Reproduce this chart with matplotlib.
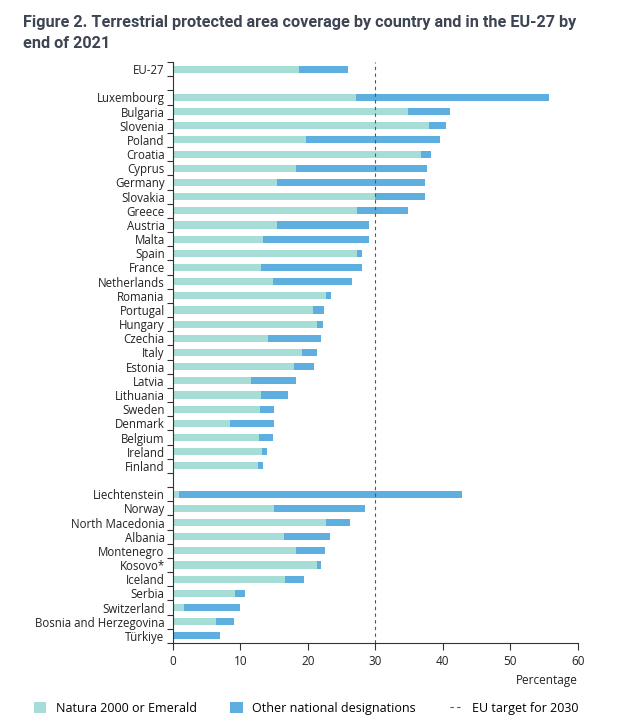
import matplotlib.pyplot as plt
import numpy as np

plt.rcParams['font.family'] = ['Open Sans', 'DejaVu Sans']

# rows top to bottom, None = blank spacer row
countries = ['EU-27', None,
             'Luxembourg', 'Bulgaria', 'Slovenia', 'Poland', 'Croatia', 'Cyprus',
             'Germany', 'Slovakia', 'Greece', 'Austria', 'Malta', 'Spain', 'France',
             'Netherlands', 'Romania', 'Portugal', 'Hungary', 'Czechia', 'Italy',
             'Estonia', 'Latvia', 'Lithuania', 'Sweden', 'Denmark', 'Belgium',
             'Ireland', 'Finland', None,
             'Liechtenstein', 'Norway', 'North Macedonia', 'Albania', 'Montenegro',
             'Kosovo*', 'Iceland', 'Serbia', 'Switzerland', 'Bosnia and Herzegovina',
             'Türkiye']

natura = [18.7, None,
          27.1, 34.9, 38.0, 19.7, 36.7, 18.2,
          15.4, 29.9, 27.3, 15.4, 13.3, 27.3, 13.0,
          14.8, 22.7, 20.7, 21.4, 14.1, 19.1,
          17.9, 11.5, 13.0, 12.9, 8.4, 12.7,
          13.2, 12.6, None,
          0.9, 14.9, 22.7, 16.5, 18.3,
          21.3, 16.6, 9.2, 1.6, 6.3,
          0.0]

total = [25.9, None,
         55.8, 41.1, 40.5, 39.6, 38.2, 37.7,
         37.4, 37.4, 34.9, 29.1, 29.0, 28.0, 28.0,
         26.5, 23.4, 22.4, 22.2, 21.9, 21.4,
         20.9, 18.2, 17.1, 15.0, 14.9, 14.8,
         13.9, 13.3, None,
         42.9, 28.5, 26.2, 23.2, 22.5,
         22.0, 19.4, 10.7, 10.0, 9.0,
         6.9]

target = 30

c_natura = '#a6ddd7'
c_other = '#5eafe0'

fig = plt.figure(figsize=(6.28, 7.28), dpi=100)
ax = fig.add_axes([0.2755, 0.1168, 0.6445, 0.798])

idx = [i for i, c in enumerate(countries) if c is not None]
nat = np.array([natura[i] for i in idx])
tot = np.array([total[i] for i in idx])
y = np.array(idx)

ax.barh(y, nat, height=0.5, color=c_natura, label='Natura 2000 or Emerald')
ax.barh(y, tot - nat, left=nat, height=0.5, color=c_other,
        label='Other national designations')
ax.axvline(target, color='#555555', lw=0.8, ls=(0, (3, 3)),
           label='EU target for 2030')

n = len(countries)
ax.set_ylim(n - 0.5, -0.5)
ax.set_xlim(0, 60)

# ticks on row boundaries, labels centred on rows
ax.set_yticks(np.arange(-0.5, n, 1.0))
ax.set_yticklabels([])
ax.set_yticks(y, minor=True)
ax.set_yticklabels([countries[i] for i in idx], minor=True, fontsize=8.3,
                   color='#222222')
ax.tick_params(axis='y', which='major', length=4, width=0.8, color='#333333')
ax.tick_params(axis='y', which='minor', length=0, pad=6)

ax.set_xticks(np.arange(0, 61, 10))
ax.tick_params(axis='x', length=5, width=0.8, color='#333333', labelsize=8.5,
               labelcolor='#222222', pad=4)

for s in ['top', 'right']:
    ax.spines[s].set_visible(False)
for s in ['left', 'bottom']:
    ax.spines[s].set_color('#333333')
    ax.spines[s].set_linewidth(0.8)

ax.set_xlabel('Percentage', fontsize=8.5, color='#222222')
ax.xaxis.set_label_coords(1.0, -0.054)
ax.xaxis.label.set_horizontalalignment('right')

fig.text(0.037, 0.979,
         'Figure 2. Terrestrial protected area coverage by country and in the EU-27 by\nend of 2021',
         fontsize=11.7, fontweight='bold', family='Roboto', color='#3d4452',
         va='top', ha='left', linespacing=1.45)

handles, labels = ax.get_legend_handles_labels()
order = [1, 2, 0]
fig.legend([handles[i] for i in order], [labels[i] for i in order],
           loc='lower left', bbox_to_anchor=(0.036, 0.003), ncol=3,
           frameon=False, fontsize=9, handlelength=1.0, handleheight=1.0,
           columnspacing=2.7, handletextpad=0.75)

fig.savefig('out.png', dpi=100)
